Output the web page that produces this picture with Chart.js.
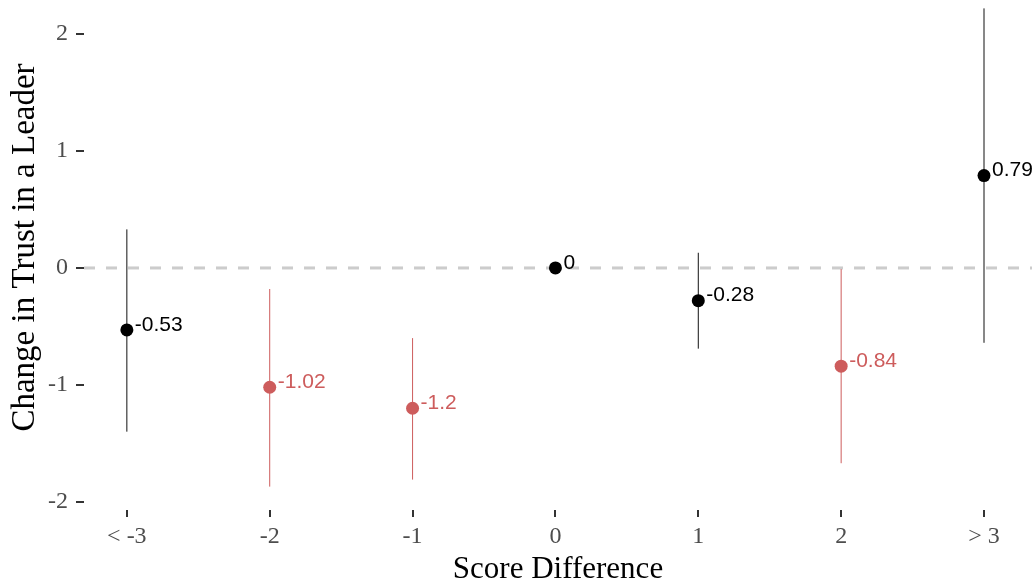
<!DOCTYPE html>
<html>
<head>
<meta charset="utf-8">
<script src="https://cdn.jsdelivr.net/npm/chart.js@4.4.1/dist/chart.umd.min.js"></script>
<style>
  html, body { margin: 0; padding: 0; background: #ffffff; overflow: hidden; }
  #wrap { position: absolute; left: 0; top: -15px; width: 1032px; height: 601px; }
</style>
</head>
<body>
<div id="wrap"><canvas id="chart"></canvas></div>
<script>
// Score-difference groups and the estimated change in trust for each
const categories  = ['< -3', '-2', '-1', '0', '1', '2', '> 3'];
const estimates   = [-0.53, -1.02, -1.2, 0, -0.28, -0.84, 0.79];
// Confidence interval bounds (the reference group 0 has none)
const lower       = [-1.40, -1.87, -1.81, null, -0.69, -1.67, -0.64];
const upper       = [0.33, -0.18, -0.60, null, 0.13, -0.01, 2.22];
// Groups whose interval stays below zero are shown in red
const significant = [false, true, true, false, false, true, false];
const yTicks      = [-2, -1, 0, 1, 2];

const RED = '#cd5c5c';
const BLACK = '#000000';
const colorOf = i => significant[i] ? RED : BLACK;

const pointData = estimates.map((v, i) => ({ x: i, y: v }));

// One short vertical segment per interval
const intervalSets = [];
categories.forEach((c, i) => {
  if (lower[i] === null) return;
  intervalSets.push({
    type: 'line',
    data: [{ x: i, y: lower[i] }, { x: i, y: upper[i] }],
    borderColor: significant[i] ? RED : '#111111',
    borderWidth: 1,
    pointRadius: 0,
    fill: false,
    order: 2
  });
});

// Dashed reference line at zero, under the data
const zeroLine = {
  id: 'zeroLine',
  beforeDatasetsDraw(chart) {
    const { ctx, chartArea, scales } = chart;
    const y = scales.y.getPixelForValue(0);
    ctx.save();
    ctx.strokeStyle = '#cccccc';
    ctx.lineWidth = 3;
    ctx.setLineDash([11, 11]);
    ctx.beginPath();
    ctx.moveTo(chartArea.left, y);
    ctx.lineTo(chartArea.right, y);
    ctx.stroke();
    ctx.restore();
  }
};

// Value labels to the right of each estimate
const valueLabels = {
  id: 'valueLabels',
  afterDatasetsDraw(chart) {
    const { ctx } = chart;
    const meta = chart.getDatasetMeta(0);
    ctx.save();
    ctx.font = '21px "Liberation Sans", Arial, sans-serif';
    ctx.textAlign = 'left';
    ctx.textBaseline = 'middle';
    meta.data.forEach((pt, i) => {
      ctx.fillStyle = colorOf(i);
      ctx.fillText(String(estimates[i]), pt.x + 8, pt.y - 5);
    });
    ctx.restore();
  }
};

const serif = '"Liberation Serif", "Times New Roman", serif';

new Chart(document.getElementById('chart'), {
  type: 'scatter',
  data: {
    datasets: [
      {
        type: 'scatter',
        data: pointData,
        pointRadius: 6.5,
        pointHoverRadius: 6.5,
        pointBackgroundColor: estimates.map((v, i) => colorOf(i)),
        pointBorderWidth: 0,
        order: 1
      },
      ...intervalSets
    ]
  },
  options: {
    responsive: true,
    maintainAspectRatio: false,
    animation: false,
    layout: { padding: 0, autoPadding: false },
    plugins: { legend: { display: false }, tooltip: { enabled: false } },
    scales: {
      x: {
        type: 'linear',
        min: -0.3,
        max: 6.336,
        afterBuildTicks: s => { s.ticks = categories.map((c, i) => ({ value: i })); },
        afterFit: s => { s.height = 76; s.paddingLeft = 0; s.paddingRight = 0; },
        ticks: {
          autoSkip: false,
          maxRotation: 0,
          padding: 5,
          color: '#4d4d4d',
          font: { family: serif, size: 24 },
          callback: v => categories[v]
        },
        grid: { drawOnChartArea: false, drawTicks: true, tickLength: 7, color: '#333333', lineWidth: 2 },
        border: { display: false },
        title: {
          display: true,
          text: 'Score Difference',
          color: '#000000',
          font: { family: serif, size: 31 },
          padding: { top: 0, bottom: -2 }
        }
      },
      y: {
        type: 'linear',
        min: -2.07,
        max: 2.42,
        afterBuildTicks: s => { s.ticks = yTicks.map(v => ({ value: v })); },
        afterFit: s => { s.width = 84; s.paddingTop = 0; s.paddingBottom = 0; },
        ticks: {
          padding: 8,
          color: '#4d4d4d',
          font: { family: serif, size: 24 },
          callback: v => String(v)
        },
        grid: { drawOnChartArea: false, drawTicks: true, tickLength: 8, color: '#333333', lineWidth: 2 },
        border: { display: false },
        title: {
          display: true,
          text: 'Change in Trust in a Leader',
          color: '#000000',
          font: { family: serif, size: 33 },
          padding: { top: 6, bottom: 0 }
        }
      }
    }
  },
  plugins: [zeroLine, valueLabels]
});
</script>
</body>
</html>
